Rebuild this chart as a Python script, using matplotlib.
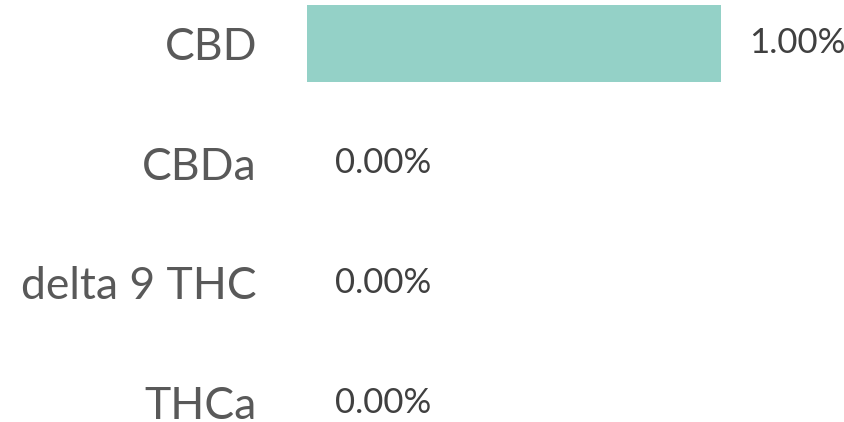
import matplotlib.pyplot as plt

# data
cannabinoids = ['CBD', 'CBDa', 'delta 9 THC', 'THCa']
values = [1.00, 0.00, 0.00, 0.00]
value_labels = ['1.00%', '0.00%', '0.00%', '0.00%']

plt.rcParams['font.family'] = ['Lato', 'DejaVu Sans']

fig = plt.figure(figsize=(8.44, 4.22), dpi=100)
ax = fig.add_axes([307 / 844, 0, 1 - 307 / 844, 1])

pos = list(range(len(cannabinoids)))
ax.barh(pos, values, height=0.64, color='#94d1c7')

for p, v, lab in zip(pos, values, value_labels):
    ax.annotate(lab, (v, p), xytext=(20, 0), textcoords='offset points',
                va='center', ha='left', fontsize=25, color='#404040')

ax.set_yticks(pos)
ax.set_yticklabels(cannabinoids, fontsize=32, color='#595959')
ax.tick_params(axis='y', length=0, pad=36)
ax.set_xticks([])
ax.set_xlim(0, 1.297)
ax.set_ylim(3.16, -0.36)
for s in ax.spines.values():
    s.set_visible(False)

fig.savefig('out.png', dpi=100)
